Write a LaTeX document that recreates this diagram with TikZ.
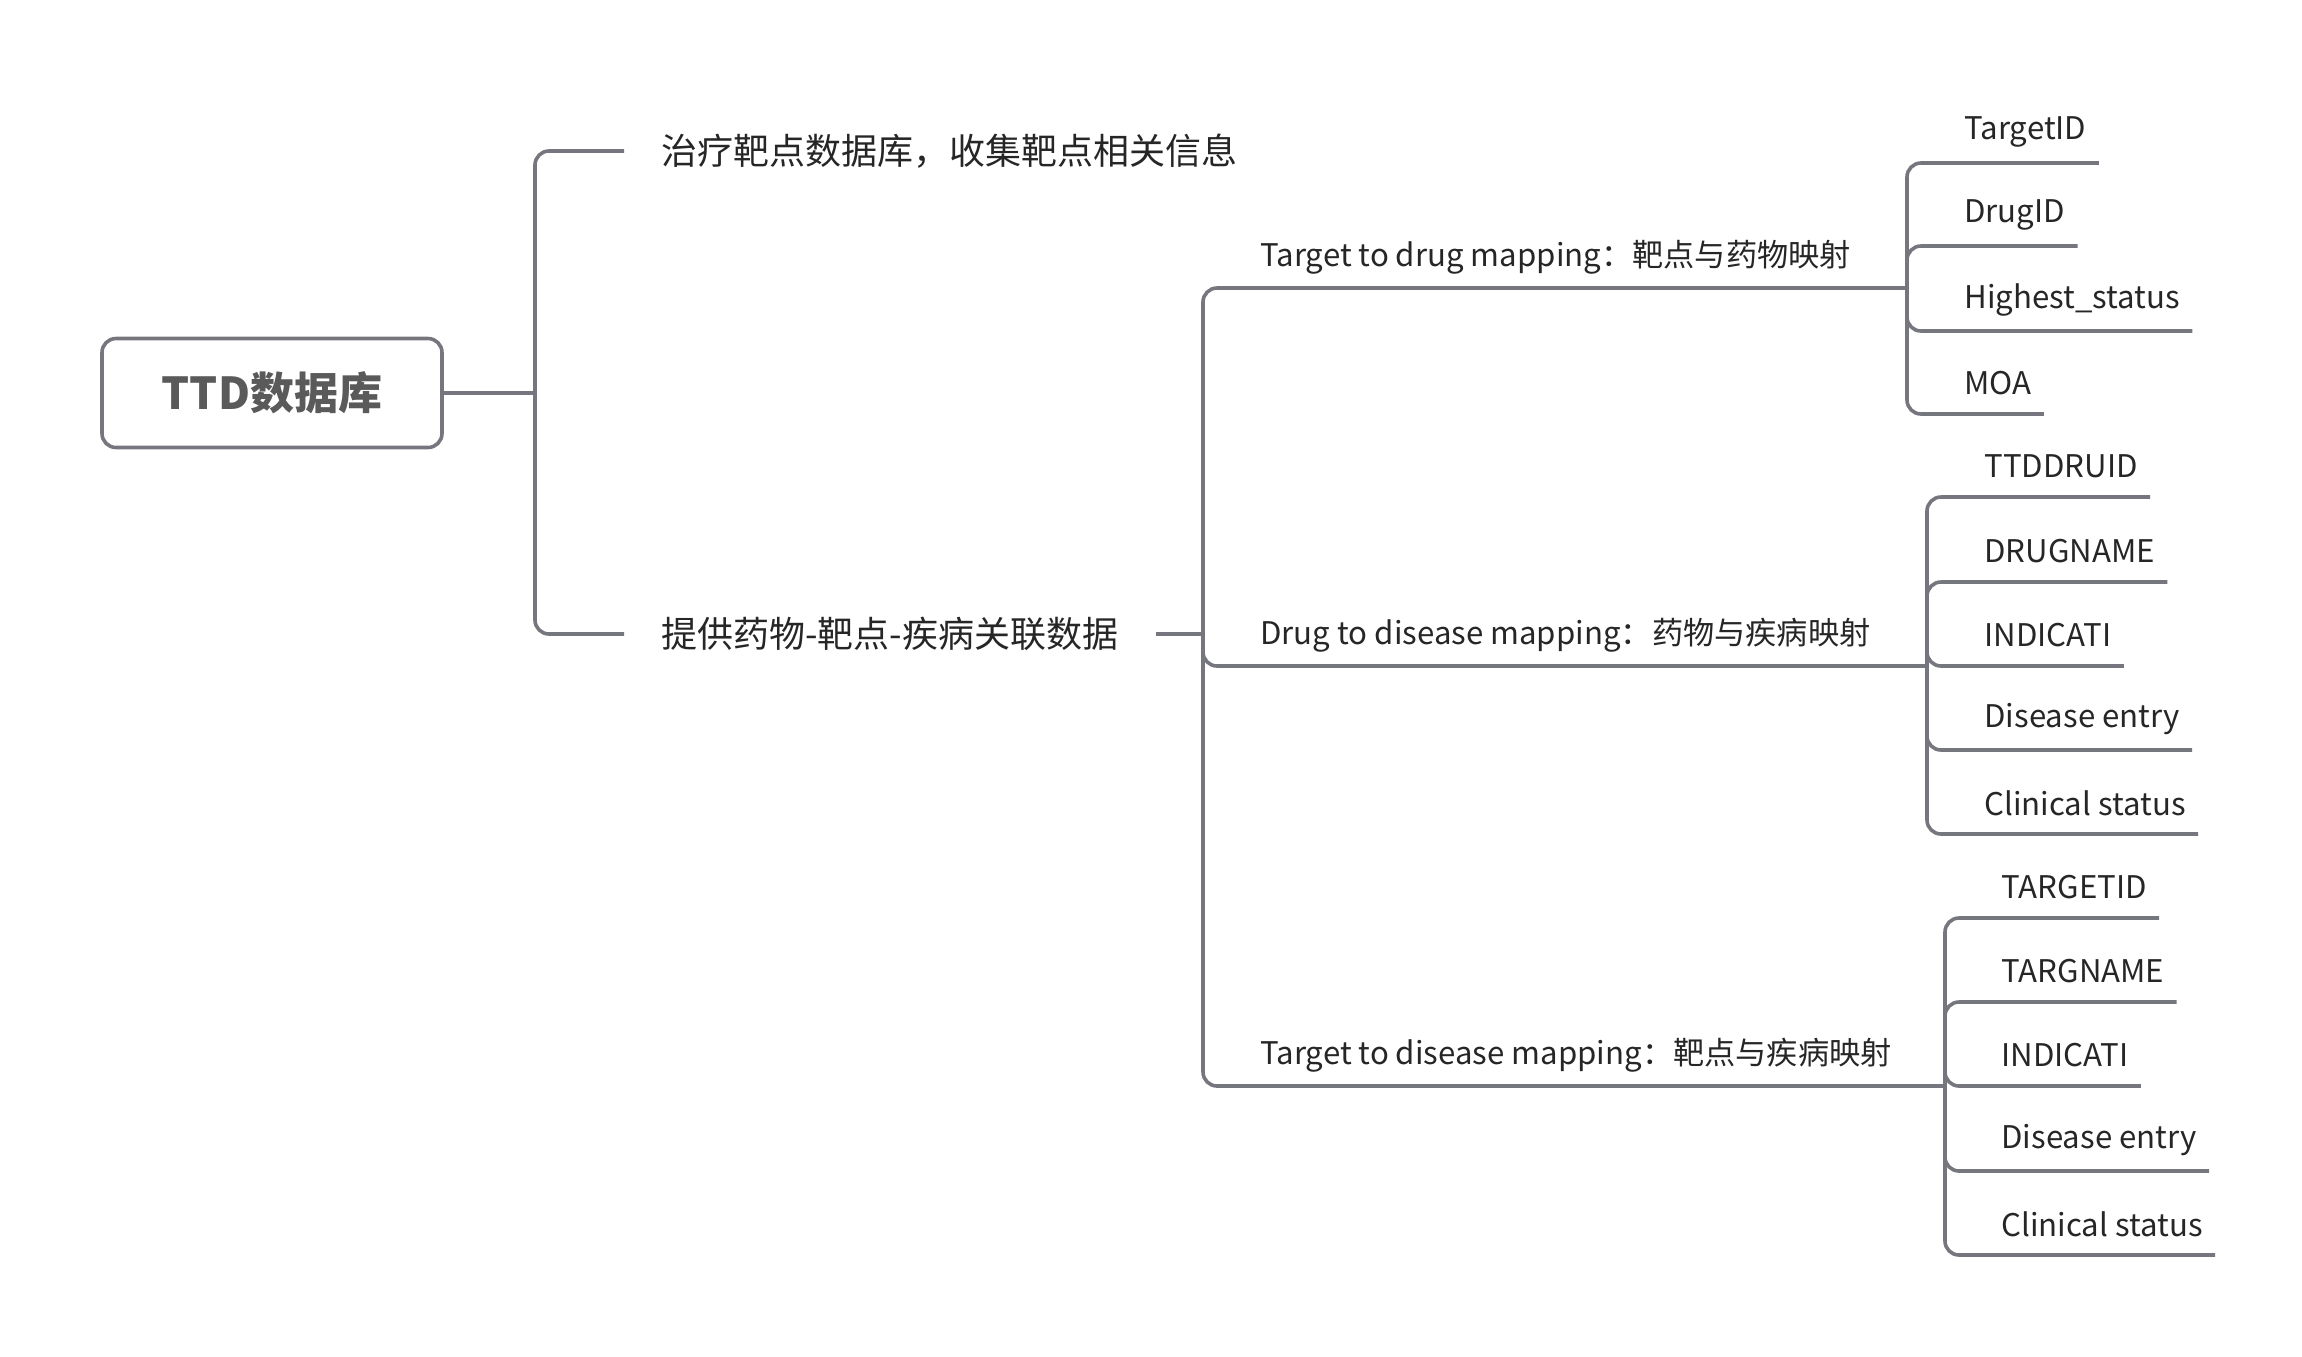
\documentclass[tikz,border=0pt]{standalone}
\usepackage{fontspec}
\setmainfont{Noto Sans CJK SC}
\definecolor{linec}{HTML}{76767F}
\definecolor{textc}{HTML}{262626}
\definecolor{roottext}{HTML}{5A5A5A}
\begin{document}
\begin{tikzpicture}[x=0.5pt,y=-0.5pt,
  conn/.style={draw=linec,line width=1.8pt,rounded corners=7pt},
  txt/.style={text=textc,inner ysep=0pt,inner xsep=0pt,anchor=west,yshift=-1.5pt,font=\fontsize{15.6pt}{18pt}\selectfont},
  leaf/.style={txt,inner xsep=6pt},
  branch/.style={txt,yshift=1.5pt,inner xsep=18.5pt,font=\fontsize{18pt}{20pt}\selectfont},
  rootbox/.style={draw=linec,line width=1.8pt,rounded corners=7pt,minimum width=170pt,minimum height=54.5pt,text=roottext,font=\fontsize{22pt}{24pt}\selectfont\bfseries}]
\useasboundingbox (0,0) rectangle (2302,1356);
% root
\node[rootbox] (root) at (272,393) {TTD数据库};
\coordinate (jA) at (535,393);
\node[branch] (b1) at (624,151) {治疗靶点数据库，收集靶点相关信息};
\node[branch] (b2) at (624,634) {提供药物-靶点-疾病关联数据};
\draw[conn] (root.east) -- (jA);
\draw[conn] (b1.west) -| (jA) |- (b2.west);
% level 2
\coordinate (j2) at (1203,634);
\draw[conn] (b2.east) -- (j2);
\node[txt] (m1) at (1260,254) {Target to drug mapping：靶点与药物映射};
\node[txt] (m2) at (1260,632) {Drug to disease mapping：药物与疾病映射};
\node[txt] (m3) at (1260,1052) {Target to disease mapping：靶点与疾病映射};
\coordinate (g1) at (1907,288);
\coordinate (g2) at (1927,666);
\coordinate (g3) at (1945,1086);
\draw[conn] (j2) |- (g1);
\draw[conn] (j2) |- (g2);
\draw[conn] (j2) |- (g3);
% group 1 leaves
\node[leaf] (a1) at (1952,129) {TargetID};
\node[leaf] (a2) at (1952,212) {DrugID};
\node[leaf] (a3) at (1952,297) {Highest\_status};
\node[leaf] (a4) at (1952,380) {MOA};
\foreach \n in {a1,a2,a3,a4} \draw[conn] (g1) |- ([yshift=-15.5pt]\n.east);
% group 2 leaves
\node[leaf] (c1) at (1972,463) {TTDDRUID};
\node[leaf] (c2) at (1972,548) {DRUGNAME};
\node[leaf] (c3) at (1972,632) {INDICATI};
\node[leaf] (c4) at (1972,716) {Disease entry};
\node[leaf] (c5) at (1972,800) {Clinical status};
\foreach \n in {c1,c2,c3,c4,c5} \draw[conn] (g2) |- ([yshift=-15.5pt]\n.east);
% group 3 leaves
\node[leaf] (d1) at (1989,884) {TARGETID};
\node[leaf] (d2) at (1989,968) {TARGNAME};
\node[leaf] (d3) at (1989,1052) {INDICATI};
\node[leaf] (d4) at (1989,1137) {Disease entry};
\node[leaf] (d5) at (1989,1221) {Clinical status};
\foreach \n in {d1,d2,d3,d4,d5} \draw[conn] (g3) |- ([yshift=-15.5pt]\n.east);
\end{tikzpicture}
\end{document}
